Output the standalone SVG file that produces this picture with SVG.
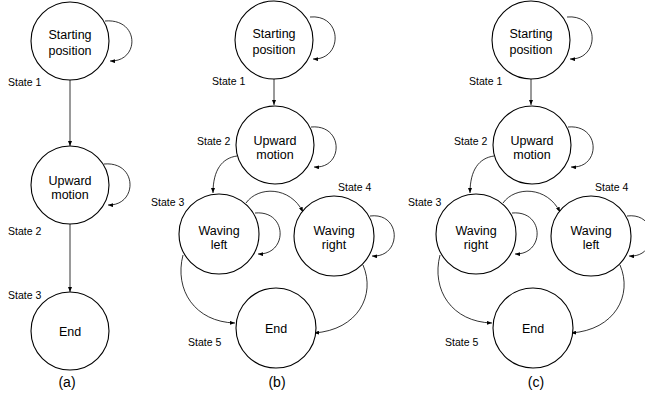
<svg xmlns="http://www.w3.org/2000/svg" width="645" height="404" viewBox="0 0 645 404">
  <style>
    .node circle { fill: #fff; stroke: #000; stroke-width: 1.1; }
    .node text { font-family: "Liberation Sans", Arial, sans-serif; font-size: 12.5px; fill: #000; text-anchor: middle; }
    .edge { fill: none; stroke: #000; stroke-width: 0.8; marker-end: url(#arr); }
    .state { font-family: "Liberation Sans", Arial, sans-serif; font-size: 10.5px; fill: #000; }
    .caption { font-family: "Liberation Sans", Arial, sans-serif; font-size: 14px; fill: #000; text-anchor: middle; }
  </style>
  <defs>
    <marker id="arr" viewBox="0 0 10 8" refX="10" refY="4" markerWidth="5" markerHeight="4" markerUnits="userSpaceOnUse" orient="auto">
      <path d="M0,0 L10,4 L0,8 z" fill="#000"/>
    </marker>
  </defs>
  <rect width="645" height="404" fill="#fff"/>

  <!-- (a) linear sequence -->
  <g id="panel-a">
    <g id="edges-a">
      <path class="edge" d="M70,80 L70,146"/>
      <path class="edge" d="M70,224 L70,292"/>
      <path class="edge" d="M105,21 C140,18 140,62 110,61"/>
      <path class="edge" d="M104,164 C138,161 138,206 108,205"/>
    </g>
    <g id="a-start" class="node">
      <circle cx="70" cy="41" r="39"/>
      <text x="70" y="39">Starting</text>
      <text x="70" y="54.5">position</text>
    </g>
    <g id="a-upward" class="node">
      <circle cx="70" cy="185" r="39"/>
      <text x="70" y="184.5">Upward</text>
      <text x="70" y="199">motion</text>
    </g>
    <g id="a-end" class="node">
      <circle cx="70" cy="331" r="39"/>
      <text x="70" y="336">End</text>
    </g>
    <text class="state" x="8" y="86">State 1</text>
    <text class="state" x="8" y="235">State 2</text>
    <text class="state" x="8" y="299">State 3</text>
    <text class="caption" x="67" y="387">(a)</text>
  </g>

  <!-- (b) waving left first -->
  <g id="panel-b">
    <g id="edges-b">
      <path class="edge" d="M274,79 L274,105"/>
      <path class="edge" d="M310,17 C343,14 343,60 313,59"/>
      <path class="edge" d="M311,127 C344,124 344,169 314,167"/>
      <path class="edge" d="M237,156 C222,158 213,170 213,193"/>
      <path class="edge" d="M246,203 C258,186 290,186 303,212"/>
      <path class="edge" d="M255,213 C288,210 288,255 258,254"/>
      <path class="edge" d="M370,216 C402,212 402,258 372,256"/>
      <path class="edge" d="M183,255 C174,290 195,322 235,323"/>
      <path class="edge" d="M363,265 C376,295 358,330 314,333"/>
    </g>
    <g id="b-start" class="node">
      <circle cx="274" cy="40" r="39"/>
      <text x="274" y="38">Starting</text>
      <text x="274" y="53.5">position</text>
    </g>
    <g id="b-upward" class="node">
      <circle cx="275" cy="145" r="39"/>
      <text x="275" y="144.5">Upward</text>
      <text x="275" y="159">motion</text>
    </g>
    <g id="b-waving-left" class="node">
      <circle cx="219" cy="234" r="40"/>
      <text x="219" y="234.5">Waving</text>
      <text x="219" y="249">left</text>
    </g>
    <g id="b-waving-right" class="node">
      <circle cx="334" cy="236" r="40"/>
      <text x="334" y="234.5">Waving</text>
      <text x="334" y="249">right</text>
    </g>
    <g id="b-end" class="node">
      <circle cx="276" cy="328" r="40"/>
      <text x="276" y="333">End</text>
    </g>
    <text class="state" x="212" y="85">State 1</text>
    <text class="state" x="197" y="145">State 2</text>
    <text class="state" x="151" y="205.5">State 3</text>
    <text class="state" x="338" y="191">State 4</text>
    <text class="state" x="188" y="346">State 5</text>
    <text class="caption" x="277" y="387">(b)</text>
  </g>

  <!-- (c) waving right first, same layout shifted right -->
  <g id="panel-c" transform="translate(257,0)">
    <g id="edges-c">
      <path class="edge" d="M274,79 L274,105"/>
      <path class="edge" d="M310,17 C343,14 343,60 313,59"/>
      <path class="edge" d="M311,127 C344,124 344,169 314,167"/>
      <path class="edge" d="M237,156 C222,158 213,170 213,193"/>
      <path class="edge" d="M246,203 C258,186 290,186 303,212"/>
      <path class="edge" d="M255,213 C288,210 288,255 258,254"/>
      <path class="edge" d="M370,216 C402,212 402,258 372,256"/>
      <path class="edge" d="M183,255 C174,290 195,322 235,323"/>
      <path class="edge" d="M363,265 C376,295 358,330 314,333"/>
    </g>
    <g id="c-start" class="node">
      <circle cx="274" cy="40" r="39"/>
      <text x="274" y="38">Starting</text>
      <text x="274" y="53.5">position</text>
    </g>
    <g id="c-upward" class="node">
      <circle cx="275" cy="145" r="39"/>
      <text x="275" y="144.5">Upward</text>
      <text x="275" y="159">motion</text>
    </g>
    <g id="c-waving-right" class="node">
      <circle cx="219" cy="234" r="40"/>
      <text x="219" y="234.5">Waving</text>
      <text x="219" y="249">right</text>
    </g>
    <g id="c-waving-left" class="node">
      <circle cx="334" cy="236" r="40"/>
      <text x="334" y="234.5">Waving</text>
      <text x="334" y="249">left</text>
    </g>
    <g id="c-end" class="node">
      <circle cx="276" cy="328" r="40"/>
      <text x="276" y="333">End</text>
    </g>
    <text class="state" x="212" y="85">State 1</text>
    <text class="state" x="197" y="145">State 2</text>
    <text class="state" x="151" y="205.5">State 3</text>
    <text class="state" x="338" y="191">State 4</text>
    <text class="state" x="188" y="346">State 5</text>
    <text class="caption" x="279" y="387">(c)</text>
  </g>
</svg>
